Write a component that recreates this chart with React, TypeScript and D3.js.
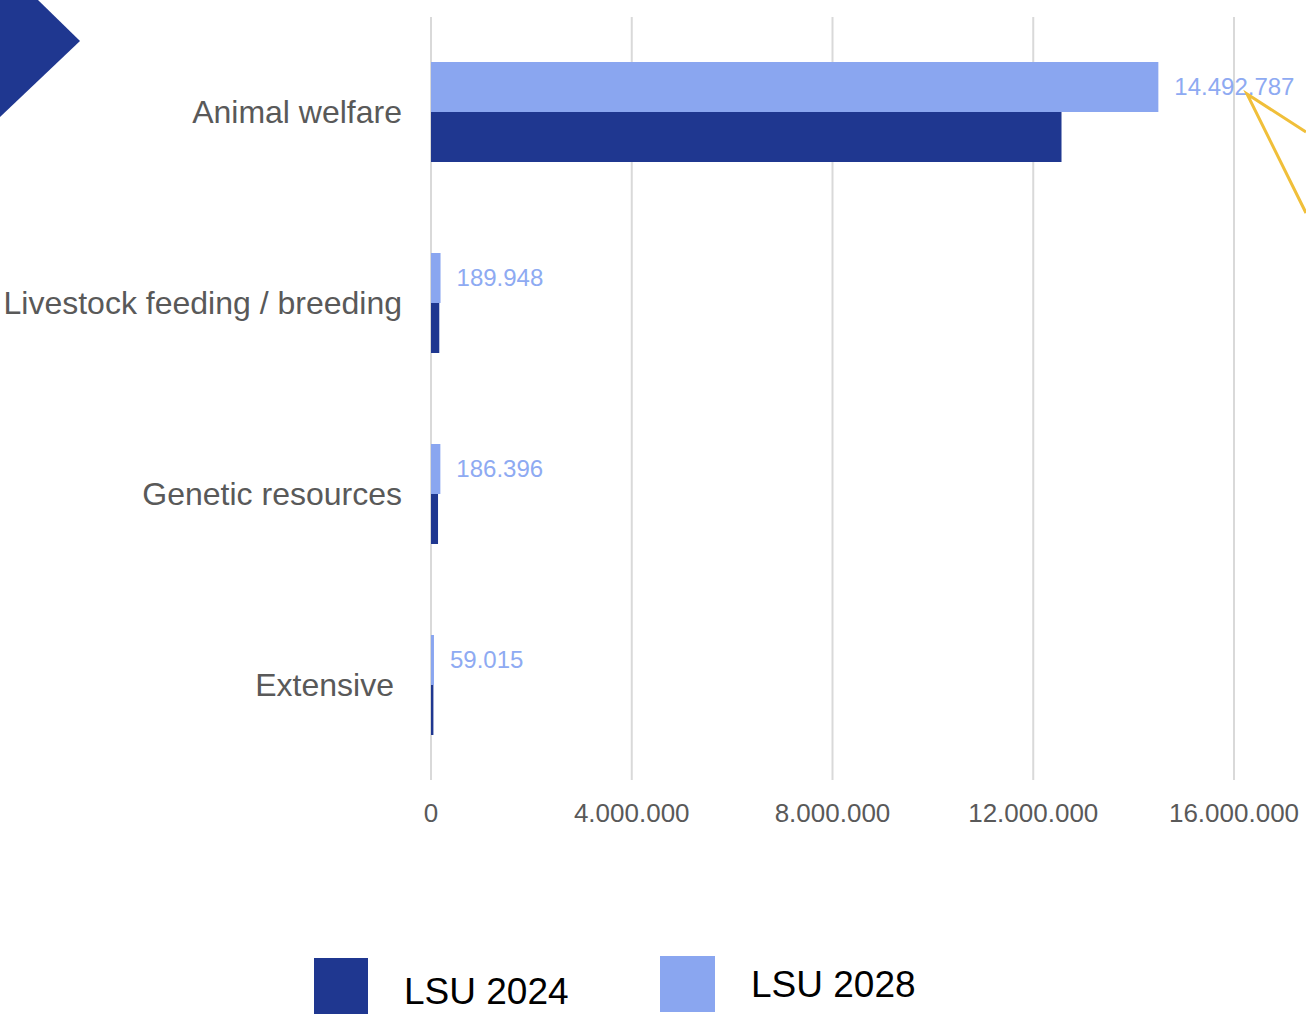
import React from "react";
import * as d3 from "d3";

const categories = ["Animal welfare", "Livestock feeding / breeding", "Genetic resources", "Extensive"];
const lsu2024 = [12563000, 165000, 140000, 48000];
const lsu2028 = [14492787, 189948, 186396, 59015];
const xTicks = [0, 4000000, 8000000, 12000000, 16000000];
const seriesNames = ["LSU 2028", "LSU 2024"];

const W = 1306;
const H = 1016;
const DARK = "#1f3790";
const LIGHT = "#8aa6f0";
const LABEL_LIGHT = "#8eaaf2";
const GRAY = "#595959";
const FONT = "'Liberation Sans', Arial, sans-serif";

const fmt = (v: number) => d3.format(",")(v).replace(/,/g, ".");

export default function App() {
  const x = d3.scaleLinear().domain([0, 16000000]).range([431, 1234]);
  const y = d3.scaleBand<string>().domain(categories).range([16.5, 780.5]).padding(0);
  const sub = d3
    .scaleBand<string>()
    .domain(seriesNames)
    .range([0, y.bandwidth()])
    .paddingInner(0)
    .paddingOuter(0.91);

  const labelX = [402, 402, 402, 394];

  return (
    <svg
      width={W}
      height={H}
      style={{ position: "absolute", left: 0, top: 0, background: "#fff" }}
      fontFamily={FONT}
    >
      <rect x={0} y={0} width={W} height={H} fill="#fff" />
      {/* chevron */}
      <polygon points="0,0 38,0 80,41 0,117" fill={DARK} />

      {/* gridlines */}
      {xTicks.map((t) => (
        <line key={t} x1={x(t)} x2={x(t)} y1={17} y2={780} stroke="#d9d9d9" strokeWidth={2} />
      ))}

      {/* bars */}
      {categories.map((c, i) => {
        const y0 = y(c)!;
        return (
          <g key={c}>
            <rect
              x={x(0)}
              y={y0 + sub("LSU 2028")!}
              width={x(lsu2028[i]) - x(0)}
              height={sub.bandwidth()}
              fill={LIGHT}
            />
            <rect
              x={x(0)}
              y={y0 + sub("LSU 2024")!}
              width={x(lsu2024[i]) - x(0)}
              height={sub.bandwidth()}
              fill={DARK}
            />
            <text
              x={x(lsu2028[i]) + 16}
              y={y0 + sub("LSU 2028")! + sub.bandwidth() / 2}
              dy="0.35em"
              fontSize={24}
              fill={LABEL_LIGHT}
            >
              {fmt(lsu2028[i])}
            </text>
            <text
              x={labelX[i]}
              y={y0 + y.bandwidth() / 2}
              dy="0.35em"
              textAnchor="end"
              fontSize={32}
              fill={GRAY}
            >
              {c}
            </text>
          </g>
        );
      })}

      {/* x tick labels */}
      {xTicks.map((t) => (
        <text key={t} x={x(t)} y={822} textAnchor="middle" fontSize={26} fill={GRAY}>
          {fmt(t)}
        </text>
      ))}

      {/* yellow annotation lines */}
      <polyline
        points="1306,132 1247,94 1306,213"
        fill="none"
        stroke="#f0bf3a"
        strokeWidth={3}
        strokeLinejoin="miter"
      />

      {/* legend */}
      <rect x={314} y={958} width={54} height={56} fill={DARK} />
      <text x={404} y={1004} fontSize={37} fill="#000">
        LSU 2024
      </text>
      <rect x={660} y={956} width={55} height={56} fill={LIGHT} />
      <text x={751} y={997} fontSize={37} fill="#000">
        LSU 2028
      </text>
    </svg>
  );
}
